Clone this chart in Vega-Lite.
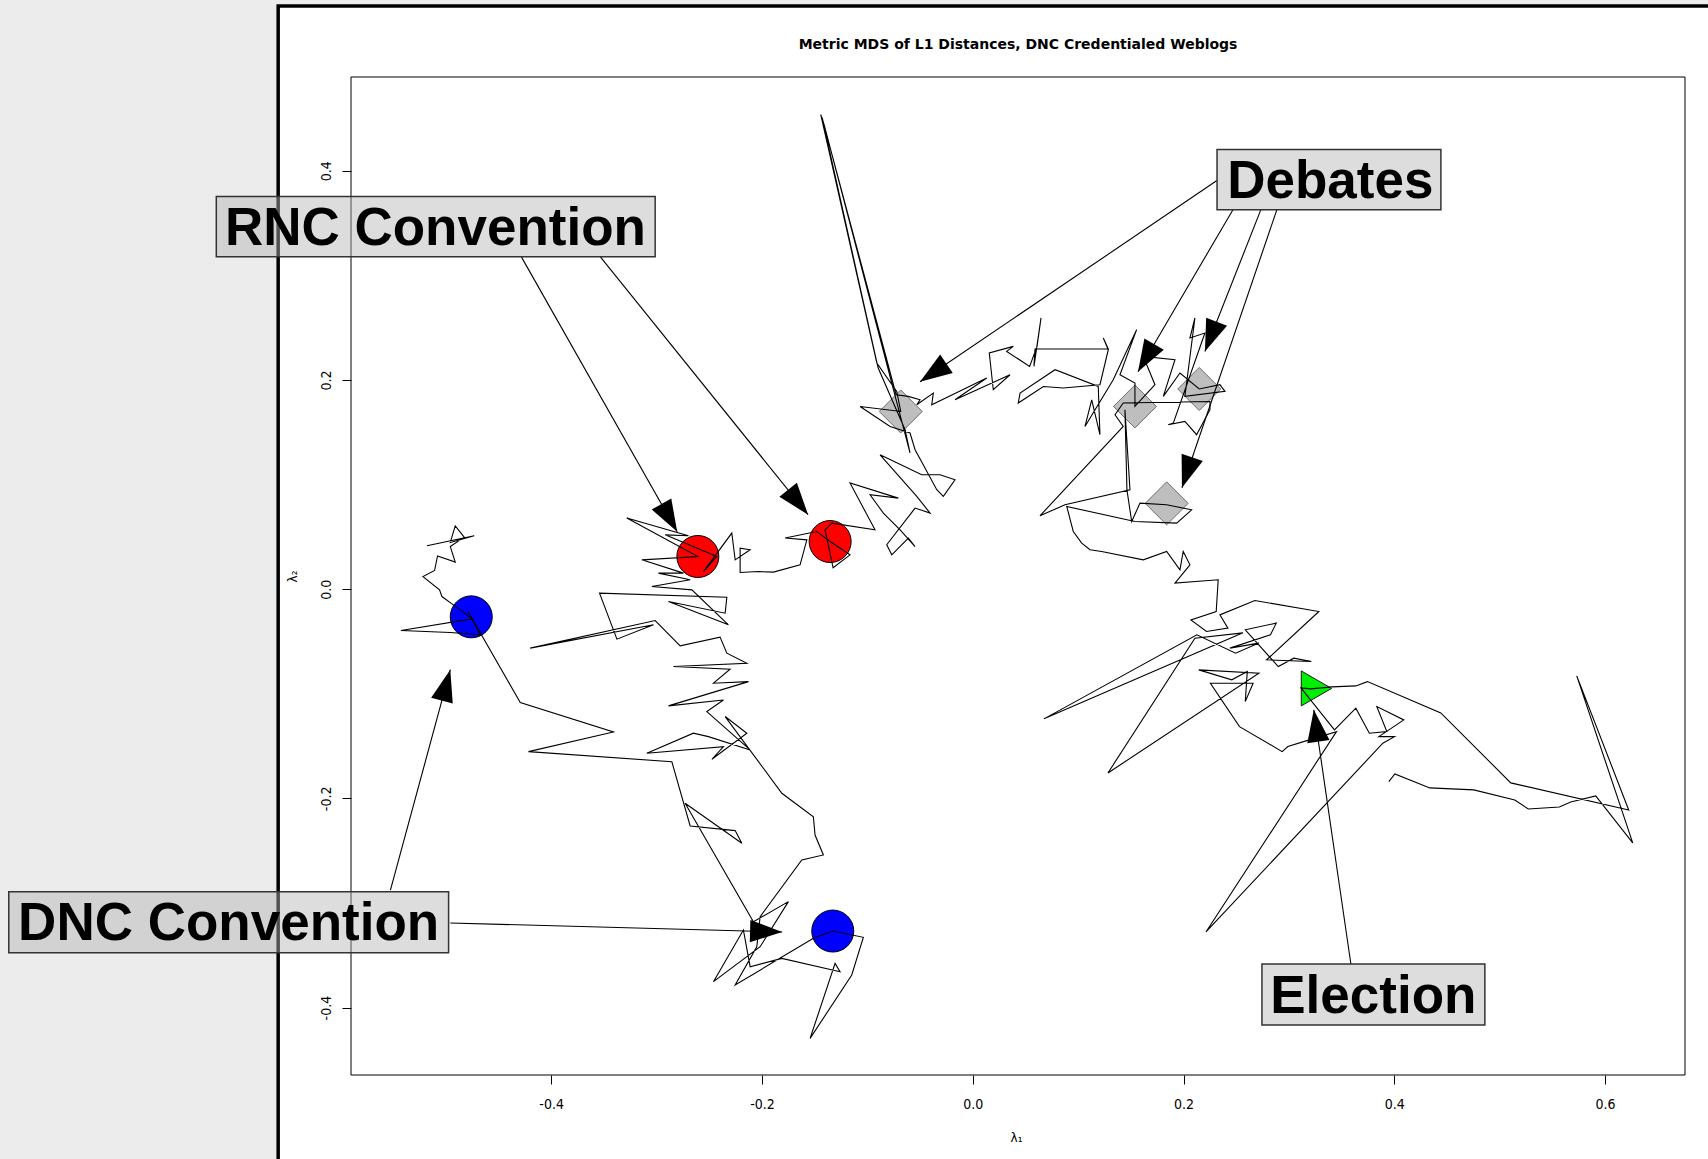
{
  "$schema": "https://vega.github.io/schema/vega-lite/v6.json",
  "width": 1334,
  "height": 998,
  "autosize": {"type": "none"},
  "padding": {"left": 351, "top": 77, "right": 23, "bottom": 84},
  "background": "white",
  "config": {
    "view": {"stroke": null},
    "axis": {"domain": false, "grid": false, "zindex": 2, "tickColor": "black", "tickSize": 9, "tickWidth": 1,
      "labelColor": "black", "labelFont": "Liberation Sans Narrow, DejaVu Sans Condensed, Liberation Sans", "labelFontSize": 14,
      "titleFont": "DejaVu Sans", "titleFontSize": 12, "titleFontWeight": "normal", "titleColor": "black"}
  },
  "datasets": {
    "path": [
{"i":1,"x":-0.5178,"y":0.0414},{"i":2,"x":-0.4730,"y":0.0510},{"i":3,"x":-0.4957,"y":0.0446},{"i":4,"x":-0.4910,"y":0.0605},{"i":5,"x":-0.4825,"y":0.0497},{"i":6,"x":-0.4957,"y":0.0407},{"i":7,"x":-0.4910,"y":0.0258},{"i":8,"x":-0.5078,"y":0.0318},{"i":9,"x":-0.5106,"y":0.0178},{"i":10,"x":-0.5216,"y":0.0120},
{"i":11,"x":-0.5059,"y":-0.0007},{"i":12,"x":-0.5036,"y":-0.0071},{"i":13,"x":-0.4941,"y":-0.0141},{"i":14,"x":-0.4749,"y":-0.0284},{"i":15,"x":-0.5425,"y":-0.0396},{"i":16,"x":-0.4957,"y":-0.0415},{"i":17,"x":-0.4673,"y":-0.0437},{"i":18,"x":-0.4787,"y":-0.0217},{"i":19,"x":-0.4293,"y":-0.1084},{"i":20,"x":-0.3409,"y":-0.1365},
{"i":21,"x":-0.4215,"y":-0.1553},{"i":22,"x":-0.2855,"y":-0.1649},{"i":23,"x":-0.2681,"y":-0.2264},{"i":24,"x":-0.2254,"y":-0.2308},{"i":25,"x":-0.2191,"y":-0.2429},{"i":26,"x":-0.2729,"y":-0.2046},{"i":27,"x":-0.2081,"y":-0.3179},{"i":28,"x":-0.1749,"y":-0.2987},{"i":29,"x":-0.2017,"y":-0.3418},{"i":30,"x":-0.2460,"y":-0.3752},
{"i":31,"x":-0.2176,"y":-0.3258},{"i":32,"x":-0.2112,"y":-0.3609},{"i":33,"x":-0.1811,"y":-0.3529},{"i":34,"x":-0.1259,"y":-0.3657},{"i":35,"x":-0.1306,"y":-0.3577},{"i":36,"x":-0.1543,"y":-0.4294},{"i":37,"x":-0.1148,"y":-0.3688},{"i":38,"x":-0.1038,"y":-0.3328},{"i":39,"x":-0.1328,"y":-0.3268},{"i":40,"x":-0.1512,"y":-0.3337},
{"i":41,"x":-0.2254,"y":-0.3784},{"i":42,"x":-0.2049,"y":-0.3418},{"i":43,"x":-0.2017,"y":-0.3131},{"i":44,"x":-0.1622,"y":-0.2589},{"i":45,"x":-0.1417,"y":-0.2541},{"i":46,"x":-0.1496,"y":-0.2350},{"i":47,"x":-0.1512,"y":-0.2175},{"i":48,"x":-0.1811,"y":-0.1951},{"i":49,"x":-0.2349,"y":-0.1218},{"i":50,"x":-0.2143,"y":-0.1377},
{"i":51,"x":-0.2475,"y":-0.1626},{"i":52,"x":-0.2365,"y":-0.1505},{"i":53,"x":-0.3092,"y":-0.1568},{"i":54,"x":-0.2650,"y":-0.1377},{"i":55,"x":-0.2508,"y":-0.1410},{"i":56,"x":-0.2112,"y":-0.1537},{"i":57,"x":-0.2523,"y":-0.1171},{"i":58,"x":-0.2365,"y":-0.1059},{"i":59,"x":-0.2887,"y":-0.1116},{"i":60,"x":-0.2128,"y":-0.0884},
{"i":61,"x":-0.2460,"y":-0.0899},{"i":62,"x":-0.2302,"y":-0.0765},{"i":63,"x":-0.2840,"y":-0.0740},{"i":64,"x":-0.2143,"y":-0.0708},{"i":65,"x":-0.2333,"y":-0.0612},{"i":66,"x":-0.2397,"y":-0.0459},{"i":67,"x":-0.2776,"y":-0.0542},{"i":68,"x":-0.3013,"y":-0.0300},{"i":69,"x":-0.4199,"y":-0.0564},{"i":70,"x":-0.3029,"y":-0.0341},
{"i":71,"x":-0.3376,"y":-0.0478},{"i":72,"x":-0.3541,"y":-0.0038},{"i":73,"x":-0.2333,"y":-0.0077},{"i":74,"x":-0.2349,"y":-0.0230},{"i":75,"x":-0.2887,"y":-0.0119},{"i":76,"x":-0.2318,"y":-0.0341},{"i":77,"x":-0.2665,"y":-0.0007},{"i":78,"x":-0.3044,"y":0.0025},{"i":79,"x":-0.2681,"y":0.0089},{"i":80,"x":-0.2982,"y":0.0153},
{"i":81,"x":-0.2745,"y":0.0153},{"i":82,"x":-0.3139,"y":0.0280},{"i":83,"x":-0.2608,"y":0.0312},{"i":84,"x":-0.3282,"y":0.0679},{"i":85,"x":-0.2697,"y":0.0510},{"i":86,"x":-0.2918,"y":0.0519},{"i":87,"x":-0.2428,"y":0.0312},{"i":88,"x":-0.2555,"y":0.0168},{"i":89,"x":-0.2286,"y":0.0536},{"i":90,"x":-0.2254,"y":0.0280},
{"i":91,"x":-0.2112,"y":0.0376},{"i":92,"x":-0.2207,"y":0.0392},{"i":93,"x":-0.2207,"y":0.0159},{"i":94,"x":-0.2033,"y":0.0168},{"i":95,"x":-0.1891,"y":0.0163},{"i":96,"x":-0.1638,"y":0.0232},{"i":97,"x":-0.1574,"y":0.0471},{"i":98,"x":-0.1780,"y":0.0488},{"i":99,"x":-0.1480,"y":0.0551},{"i":100,"x":-0.1353,"y":0.0455},
{"i":101,"x":-0.1164,"y":0.0328},{"i":102,"x":-0.1325,"y":0.0204},{"i":103,"x":-0.1401,"y":0.0567},{"i":104,"x":-0.1337,"y":0.0631},{"i":105,"x":-0.0927,"y":0.0567},{"i":106,"x":-0.1164,"y":0.1014},{"i":107,"x":-0.0706,"y":0.0870},{"i":108,"x":-0.0974,"y":0.0902},{"i":109,"x":-0.0848,"y":0.0727},{"i":110,"x":-0.0689,"y":0.0567},
{"i":111,"x":-0.0547,"y":0.0407},{"i":112,"x":-0.0611,"y":0.0488},{"i":113,"x":-0.0768,"y":0.0328},{"i":114,"x":-0.0816,"y":0.0424},{"i":115,"x":-0.0547,"y":0.0775},{"i":116,"x":-0.0405,"y":0.0727},{"i":117,"x":-0.0531,"y":0.0886},{"i":118,"x":-0.0879,"y":0.1284},{"i":119,"x":-0.0484,"y":0.1093},{"i":120,"x":-0.0310,"y":0.1093},
{"i":121,"x":-0.0168,"y":0.1045},{"i":122,"x":-0.0279,"y":0.0886},{"i":123,"x":-0.0341,"y":0.0950},{"i":124,"x":-0.0547,"y":0.1332},{"i":125,"x":-0.0595,"y":0.1492},{"i":126,"x":-0.0784,"y":0.1555},{"i":127,"x":-0.1069,"y":0.1746},{"i":128,"x":-0.0683,"y":0.1698},{"i":129,"x":-0.0721,"y":0.1890},{"i":130,"x":-0.0910,"y":0.2161},
{"i":131,"x":-0.1442,"y":0.4536},{"i":132,"x":-0.1410,"y":0.4440},{"i":133,"x":-0.0595,"y":0.1303},{"i":134,"x":-0.0642,"y":0.1523},{"i":135,"x":-0.0898,"y":0.2116},{"i":136,"x":-0.1429,"y":0.4507},{"i":137,"x":-0.0727,"y":0.1858},{"i":138,"x":-0.0611,"y":0.1842},{"i":139,"x":-0.0500,"y":0.1810},{"i":140,"x":-0.0531,"y":0.1762},
{"i":141,"x":-0.0374,"y":0.1874},{"i":142,"x":-0.0389,"y":0.1762},{"i":143,"x":0.0133,"y":0.2018},{"i":144,"x":-0.0168,"y":0.1810},{"i":145,"x":0.0354,"y":0.2049},{"i":146,"x":0.0195,"y":0.1906},{"i":147,"x":0.0157,"y":0.2257},{"i":148,"x":0.0385,"y":0.2320},{"i":149,"x":0.0322,"y":0.2272},{"i":150,"x":0.0540,"y":0.2129},
{"i":151,"x":0.0610,"y":0.2320},{"i":152,"x":0.0648,"y":0.2592},{"i":153,"x":0.0581,"y":0.2129},{"i":154,"x":0.0591,"y":0.2295},{"i":155,"x":0.1286,"y":0.2295},{"i":156,"x":0.1239,"y":0.2400},{"i":157,"x":0.1286,"y":0.2288},{"i":158,"x":0.1207,"y":0.1954},{"i":159,"x":0.0859,"y":0.1922},{"i":160,"x":0.0670,"y":0.1937},
{"i":161,"x":0.0432,"y":0.1779},{"i":162,"x":0.0449,"y":0.1874},{"i":163,"x":0.0781,"y":0.2097},{"i":164,"x":0.1191,"y":0.1937},{"i":165,"x":0.1207,"y":0.1476},{"i":166,"x":0.1129,"y":0.1810},{"i":167,"x":0.1065,"y":0.1555},{"i":168,"x":0.1333,"y":0.2002},{"i":169,"x":0.1555,"y":0.2480},{"i":170,"x":0.1397,"y":0.2049},
{"i":171,"x":0.1539,"y":0.1970},{"i":172,"x":0.1539,"y":0.1746},{"i":173,"x":0.1729,"y":0.1954},{"i":174,"x":0.1618,"y":0.2224},{"i":175,"x":0.1919,"y":0.2193},{"i":176,"x":0.1808,"y":0.1842},{"i":177,"x":0.1966,"y":0.2066},{"i":178,"x":0.2149,"y":0.1913},{"i":179,"x":0.2345,"y":0.1954},{"i":180,"x":0.2393,"y":0.1890},
{"i":181,"x":0.2013,"y":0.1842},{"i":182,"x":0.2108,"y":0.2592},{"i":183,"x":0.2061,"y":0.2400},{"i":184,"x":0.2203,"y":0.2448},{"i":185,"x":0.1903,"y":0.1587},{"i":186,"x":0.1855,"y":0.1571},{"i":187,"x":0.2013,"y":0.1603},{"i":188,"x":0.2124,"y":0.1476},{"i":189,"x":0.2251,"y":0.1715},{"i":190,"x":0.2251,"y":0.1794},
{"i":191,"x":0.1428,"y":0.1779},{"i":192,"x":0.1350,"y":0.1667},{"i":193,"x":0.1428,"y":0.1555},{"i":194,"x":0.0638,"y":0.0701},{"i":195,"x":0.0875,"y":0.0806},{"i":196,"x":0.1492,"y":0.0950},{"i":197,"x":0.1444,"y":0.1715},{"i":198,"x":0.1463,"y":0.0950},{"i":199,"x":0.1508,"y":0.0646},{"i":200,"x":0.1587,"y":0.0822},
{"i":201,"x":0.1840,"y":0.0806},{"i":202,"x":0.2077,"y":0.0758},{"i":203,"x":0.1935,"y":0.0631},{"i":204,"x":0.1539,"y":0.0646},{"i":205,"x":0.0892,"y":0.0790},{"i":206,"x":0.0954,"y":0.0551},{"i":207,"x":0.1034,"y":0.0440},{"i":208,"x":0.1112,"y":0.0376},{"i":209,"x":0.1223,"y":0.0360},{"i":210,"x":0.1618,"y":0.0280},
{"i":211,"x":0.1840,"y":0.0360},{"i":212,"x":0.1966,"y":0.0185},{"i":213,"x":0.1997,"y":0.0360},{"i":214,"x":0.2061,"y":0.0232},{"i":215,"x":0.1919,"y":0.0057},{"i":216,"x":0.2329,"y":0.0089},{"i":217,"x":0.2310,"y":-0.0214},{"i":218,"x":0.2070,"y":-0.0294},{"i":219,"x":0.2218,"y":-0.0405},{"i":220,"x":0.2421,"y":-0.0373},
{"i":221,"x":0.2345,"y":-0.0246},{"i":222,"x":0.2677,"y":-0.0109},{"i":223,"x":0.3284,"y":-0.0214},{"i":224,"x":0.2788,"y":-0.0676},{"i":225,"x":0.3212,"y":-0.0692},{"i":226,"x":0.3047,"y":-0.0660},{"i":227,"x":0.2899,"y":-0.0740},{"i":228,"x":0.2586,"y":-0.0389},{"i":229,"x":0.2880,"y":-0.0325},{"i":230,"x":0.2825,"y":-0.0437},
{"i":231,"x":0.2440,"y":-0.0564},{"i":232,"x":0.2715,"y":-0.0516},{"i":233,"x":0.2494,"y":-0.0612},{"i":234,"x":0.2127,"y":-0.0437},{"i":235,"x":0.0676,"y":-0.1240},{"i":236,"x":0.2564,"y":-0.0418},{"i":237,"x":0.2108,"y":-0.0469},{"i":238,"x":0.1283,"y":-0.1757},{"i":239,"x":0.2715,"y":-0.0803},{"i":240,"x":0.2145,"y":-0.0772},
{"i":241,"x":0.2458,"y":-0.0867},{"i":242,"x":0.2605,"y":-0.0788},{"i":243,"x":0.2586,"y":-0.1075},{"i":244,"x":0.2660,"y":-0.0899},{"i":245,"x":0.2255,"y":-0.0899},{"i":246,"x":0.2531,"y":-0.1314},{"i":247,"x":0.2936,"y":-0.1553},{"i":248,"x":0.2990,"y":-0.1505},{"i":249,"x":0.3193,"y":-0.1441},{"i":250,"x":0.3451,"y":-0.1362},
{"i":251,"x":0.2213,"y":-0.3277},{"i":252,"x":0.3891,"y":-0.1473},{"i":253,"x":0.4002,"y":-0.1410},{"i":254,"x":0.3853,"y":-0.1410},{"i":255,"x":0.4090,"y":-0.1250},{"i":256,"x":0.3834,"y":-0.1123},{"i":257,"x":0.3929,"y":-0.1362},{"i":258,"x":0.3763,"y":-0.1377},{"i":259,"x":0.3635,"y":-0.1138},{"i":260,"x":0.3432,"y":-0.1346},
{"i":261,"x":0.3114,"y":-0.0944},{"i":262,"x":0.3208,"y":-0.0953},{"i":263,"x":0.3408,"y":-0.0934},{"i":264,"x":0.3635,"y":-0.0925},{"i":265,"x":0.3745,"y":-0.0884},{"i":266,"x":0.4441,"y":-0.1183},{"i":267,"x":0.5105,"y":-0.1852},{"i":268,"x":0.6224,"y":-0.2111},{"i":269,"x":0.5731,"y":-0.0829},{"i":270,"x":0.6262,"y":-0.2426},
{"i":271,"x":0.5911,"y":-0.1977},{"i":272,"x":0.5674,"y":-0.2034},{"i":273,"x":0.5565,"y":-0.2082},{"i":274,"x":0.5271,"y":-0.2101},{"i":275,"x":0.5143,"y":-0.2015},{"i":276,"x":0.4754,"y":-0.1919},{"i":277,"x":0.4337,"y":-0.1900},{"i":278,"x":0.4005,"y":-0.1766},{"i":279,"x":0.3948,"y":-0.1840}
    ],
    "events": [
      {"event": "DNC", "x": -0.4758, "y": -0.0265},
      {"event": "DNC", "x": -0.1328, "y": -0.3268},
      {"event": "RNC", "x": -0.2608, "y": 0.0312},
      {"event": "RNC", "x": -0.1353, "y": 0.0455},
      {"event": "Debate", "x": -0.0683, "y": 0.1698},
      {"event": "Debate", "x": 0.1539, "y": 0.1746},
      {"event": "Debate", "x": 0.2149, "y": 0.1913},
      {"event": "Debate", "x": 0.1840, "y": 0.0820},
      {"event": "Election", "x": 0.3261, "y": -0.0949}
    ],
    "arrows": [
      {"x0": -0.4284, "y0": 0.3178, "x": -0.2804, "y": 0.0548},
      {"x0": -0.3535, "y0": 0.3178, "x": -0.1562, "y": 0.0711},
      {"x0": 0.2317, "y0": 0.3905, "x": -0.0500, "y": 0.1982},
      {"x0": 0.2469, "y0": 0.3627, "x": 0.1568, "y": 0.2078},
      {"x0": 0.2734, "y0": 0.3627, "x": 0.2203, "y": 0.2271},
      {"x0": 0.2886, "y0": 0.3627, "x": 0.1985, "y": 0.0969},
      {"x0": -0.5525, "y0": -0.2876, "x": -0.4957, "y": -0.0770},
      {"x0": -0.4957, "y0": -0.3191, "x": -0.1809, "y": -0.3277},
      {"x0": 0.3588, "y0": -0.3583, "x": 0.3236, "y": -0.1154}
    ],
    "boxes": [
      {"label": "RNC Convention", "x1": -0.7177, "x2": -0.3013, "y1": 0.3752, "y2": 0.3178, "tx": -0.5098, "ty": 0.3293},
      {"label": "Debates", "x1": 0.2318, "x2": 0.4442, "y1": 0.4201, "y2": 0.3627, "tx": 0.3393, "ty": 0.3739},
      {"label": "DNC Convention", "x1": -0.9146, "x2": -0.4973, "y1": -0.2892, "y2": -0.3475, "tx": -0.7060, "ty": -0.3354},
      {"label": "Election", "x1": 0.2744, "x2": 0.4859, "y1": -0.3583, "y2": -0.4167, "tx": 0.3801, "ty": -0.4055}
    ],
    "titles": [
      {"text": "Metric MDS of L1 Distances, DNC Credentialed Weblogs", "x": 0.0430, "y": 0.5167}
    ]
  },
  "layer": [
    {
      "data": {"values": [{}]},
      "mark": {"type": "rect", "fill": "#ececec", "strokeWidth": 0, "clip": false},
      "encoding": {
        "x": {"datum": -1.0, "type": "quantitative", "scale": {"domain": [-0.5899, 0.6758], "nice": false, "zero": false},
          "axis": {"values": [-0.4, -0.2, 0, 0.2, 0.4, 0.6], "labelExpr": "replace(format(datum.value, '.1f'), '\u2212', '-')", "zindex": 2,
            "labelPadding": 13, "title": "λ₁", "titleX": 665, "titleY": 66, "titleBaseline": "alphabetic", "titleAlign": "center"}},
        "x2": {"datum": -0.659},
        "y": {"datum": 0.8, "type": "quantitative", "scale": {"domain": [-0.4644, 0.4895], "nice": false, "zero": false},
          "axis": {"values": [-0.4, -0.2, 0, 0.2, 0.4], "labelExpr": "replace(format(datum.value, '.1f'), '\u2212', '-')", "zindex": 2,
            "labelAngle": 270, "labelAlign": "center", "labelBaseline": "alphabetic", "labelPadding": 12,
            "title": "λ₂", "titleAngle": 270, "titleX": -55, "titleY": 499, "titleAlign": "center", "titleBaseline": "alphabetic"}},
        "y2": {"datum": -0.8}
      }
    },
    {
      "data": {"values": [{}]},
      "mark": {"type": "rect", "fill": "#ececec", "strokeWidth": 0, "clip": false},
      "encoding": {
        "x": {"datum": -1.0, "type": "quantitative", "scale": {"domain": [-0.5899, 0.6758], "nice": false, "zero": false}},
        "x2": {"datum": 0.8},
        "y": {"datum": 0.8, "type": "quantitative", "scale": {"domain": [-0.4644, 0.4895], "nice": false, "zero": false}},
        "y2": {"datum": 0.5573}
      }
    },
    {
      "data": {"values": [{}]},
      "mark": {"type": "rect", "fill": "white", "fillOpacity": 0, "stroke": "black", "strokeWidth": 3.5, "clip": false},
      "encoding": {
        "x": {"datum": -0.659, "type": "quantitative", "scale": {"domain": [-0.5899, 0.6758], "nice": false, "zero": false}},
        "x2": {"datum": 0.8},
        "y": {"datum": 0.5573, "type": "quantitative", "scale": {"domain": [-0.4644, 0.4895], "nice": false, "zero": false}},
        "y2": {"datum": -0.8}
      }
    },
    {
      "data": {"values": [{}]},
      "mark": {"type": "rect", "fill": "white", "fillOpacity": 0, "stroke": "black", "strokeWidth": 1, "clip": false},
      "encoding": {
        "x": {"datum": -0.5899, "type": "quantitative", "scale": {"domain": [-0.5899, 0.6758], "nice": false, "zero": false}},
        "x2": {"datum": 0.6758},
        "y": {"datum": 0.4895, "type": "quantitative", "scale": {"domain": [-0.4644, 0.4895], "nice": false, "zero": false}},
        "y2": {"datum": -0.4644}
      }
    },
    {
      "data": {"name": "titles"},
      "mark": {"type": "text", "font": "DejaVu Sans", "fontSize": 14, "fontWeight": "bold", "fill": "black", "align": "center", "baseline": "alphabetic", "clip": false},
      "encoding": {
        "x": {"field": "x", "type": "quantitative", "scale": {"domain": [-0.5899, 0.6758], "nice": false, "zero": false}},
        "y": {"field": "y", "type": "quantitative", "scale": {"domain": [-0.4644, 0.4895], "nice": false, "zero": false}},
        "text": {"field": "text", "type": "nominal"}
      }
    },
    {
      "data": {"name": "events"},
      "transform": [{"filter": "datum.event === 'DNC' || datum.event === 'RNC'"}],
      "mark": {"type": "point", "shape": "circle", "filled": true, "size": 1764, "opacity": 1, "stroke": "black", "strokeWidth": 1, "clip": false},
      "encoding": {
        "x": {"field": "x", "type": "quantitative", "scale": {"domain": [-0.5899, 0.6758], "nice": false, "zero": false}},
        "y": {"field": "y", "type": "quantitative", "scale": {"domain": [-0.4644, 0.4895], "nice": false, "zero": false}},
        "fill": {"field": "event", "type": "nominal", "scale": {"domain": ["DNC", "RNC"], "range": ["#0000ff", "#ff0000"]}, "legend": null}
      }
    },
    {
      "data": {"name": "events"},
      "transform": [{"filter": "datum.event === 'Debate'"}],
      "mark": {"type": "point", "shape": "diamond", "filled": true, "size": 1849, "opacity": 1, "fill": "#bebebe", "stroke": "#6e6e6e", "strokeWidth": 1, "clip": false},
      "encoding": {
        "x": {"field": "x", "type": "quantitative", "scale": {"domain": [-0.5899, 0.6758], "nice": false, "zero": false}},
        "y": {"field": "y", "type": "quantitative", "scale": {"domain": [-0.4644, 0.4895], "nice": false, "zero": false}}
      }
    },
    {
      "data": {"name": "events"},
      "transform": [{"filter": "datum.event === 'Election'"}],
      "mark": {"type": "point", "shape": "triangle-right", "filled": true, "size": 1225, "opacity": 1, "fill": "#00ee00", "stroke": "#1a1a1a", "strokeWidth": 1, "clip": false},
      "encoding": {
        "x": {"field": "x", "type": "quantitative", "scale": {"domain": [-0.5899, 0.6758], "nice": false, "zero": false}},
        "y": {"field": "y", "type": "quantitative", "scale": {"domain": [-0.4644, 0.4895], "nice": false, "zero": false}}
      }
    },
    {
      "data": {"name": "path"},
      "mark": {"type": "line", "stroke": "black", "strokeWidth": 1.1, "clip": false},
      "encoding": {
        "x": {"field": "x", "type": "quantitative", "scale": {"domain": [-0.5899, 0.6758], "nice": false, "zero": false}},
        "y": {"field": "y", "type": "quantitative", "scale": {"domain": [-0.4644, 0.4895], "nice": false, "zero": false}},
        "order": {"field": "i", "type": "quantitative"}
      }
    },
    {
      "data": {"name": "arrows"},
      "mark": {"type": "rule", "stroke": "black", "strokeWidth": 1.1, "clip": false},
      "encoding": {
        "x": {"field": "x0", "type": "quantitative", "scale": {"domain": [-0.5899, 0.6758], "nice": false, "zero": false}},
        "y": {"field": "y0", "type": "quantitative", "scale": {"domain": [-0.4644, 0.4895], "nice": false, "zero": false}},
        "x2": {"field": "x"},
        "y2": {"field": "y"}
      }
    },
    {
      "data": {"name": "arrows"},
      "transform": [{"calculate": "atan2(datum.x - datum.x0, datum.y - datum.y0) * 180 / PI", "as": "ang"}],
      "mark": {"type": "point", "shape": "M0,0L-0.35,1L0.35,1Z", "filled": true, "size": 4096, "opacity": 1, "fill": "black", "strokeWidth": 0, "clip": false},
      "encoding": {
        "x": {"field": "x", "type": "quantitative", "scale": {"domain": [-0.5899, 0.6758], "nice": false, "zero": false}},
        "y": {"field": "y", "type": "quantitative", "scale": {"domain": [-0.4644, 0.4895], "nice": false, "zero": false}},
        "angle": {"field": "ang", "type": "quantitative", "scale": null}
      }
    },
    {
      "data": {"name": "boxes"},
      "mark": {"type": "rect", "fill": "#b4b4b4", "fillOpacity": 0.45, "stroke": "#333333", "strokeWidth": 1.5, "clip": false},
      "encoding": {
        "x": {"field": "x1", "type": "quantitative", "scale": {"domain": [-0.5899, 0.6758], "nice": false, "zero": false}},
        "x2": {"field": "x2"},
        "y": {"field": "y1", "type": "quantitative", "scale": {"domain": [-0.4644, 0.4895], "nice": false, "zero": false}},
        "y2": {"field": "y2"}
      }
    },
    {
      "data": {"name": "boxes"},
      "mark": {"type": "text", "font": "Liberation Sans", "fontSize": 53, "fontWeight": "bold", "fill": "black", "align": "center", "baseline": "alphabetic", "clip": false},
      "encoding": {
        "x": {"field": "tx", "type": "quantitative", "scale": {"domain": [-0.5899, 0.6758], "nice": false, "zero": false}},
        "y": {"field": "ty", "type": "quantitative", "scale": {"domain": [-0.4644, 0.4895], "nice": false, "zero": false}},
        "text": {"field": "label", "type": "nominal"}
      }
    }
  ]
}
